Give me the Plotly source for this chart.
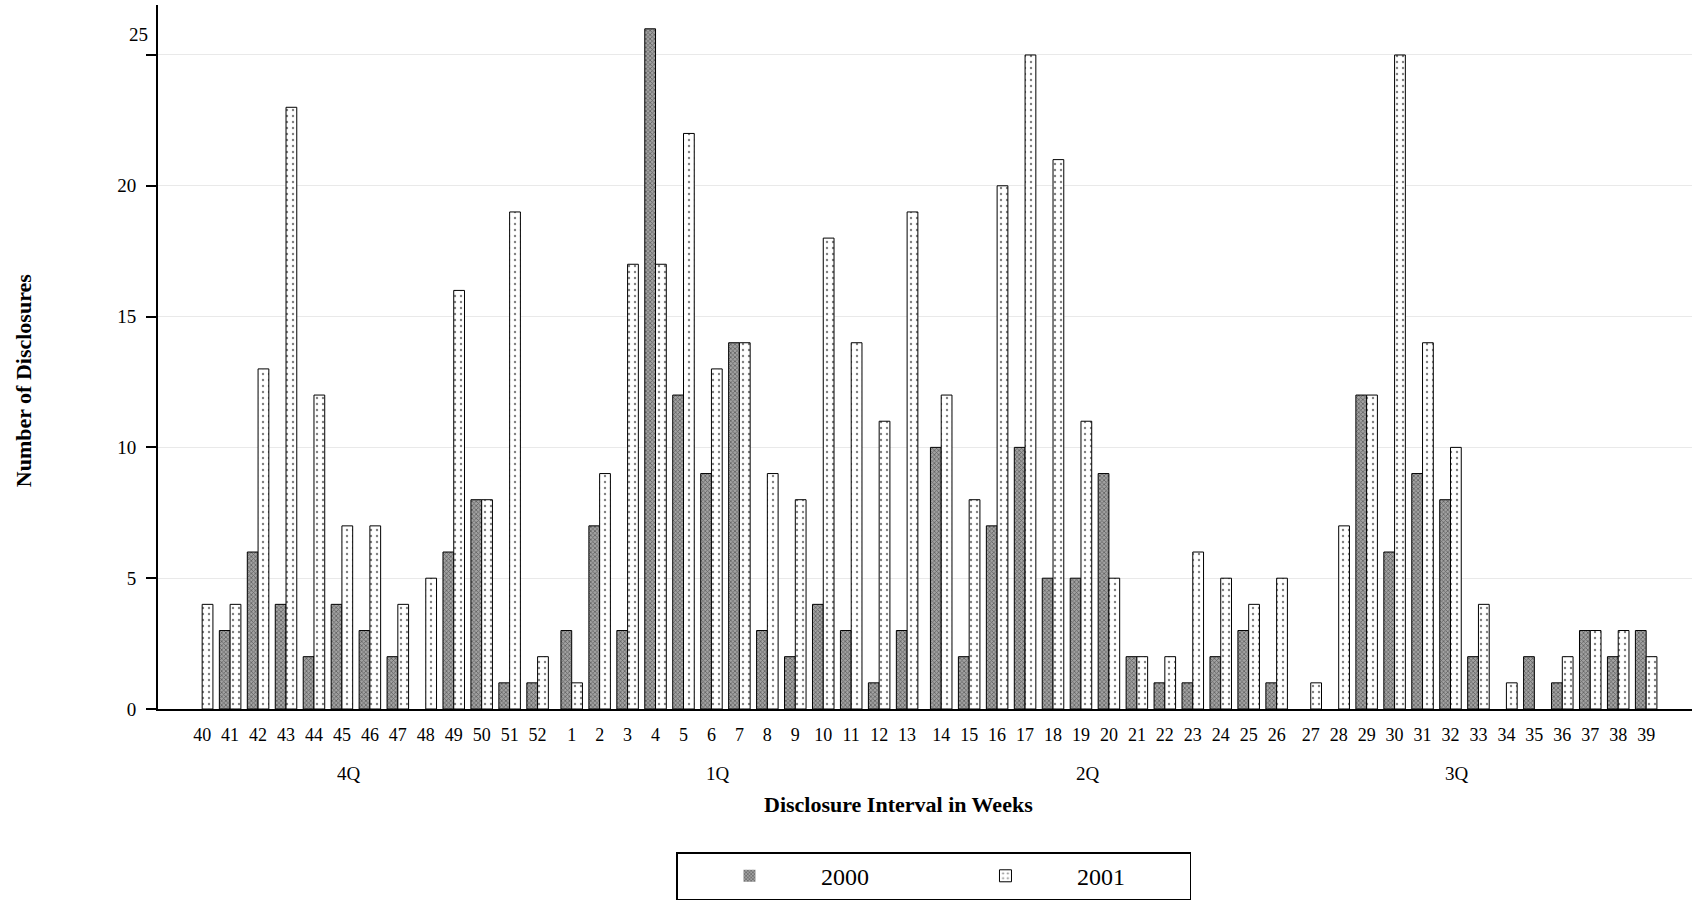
import plotly.graph_objects as go

quarters = ["4Q", "1Q", "2Q", "3Q"]
weeks = [
    [40, 41, 42, 43, 44, 45, 46, 47, 48, 49, 50, 51, 52],
    [1, 2, 3, 4, 5, 6, 7, 8, 9, 10, 11, 12, 13],
    [14, 15, 16, 17, 18, 19, 20, 21, 22, 23, 24, 25, 26],
    [27, 28, 29, 30, 31, 32, 33, 34, 35, 36, 37, 38, 39],
]
v2000 = [
    0, 3, 6, 4, 2, 4, 3, 2, 0, 6, 8, 1, 1,
    3, 7, 3, 26, 12, 9, 14, 3, 2, 4, 3, 1, 3,
    10, 2, 7, 10, 5, 5, 9, 2, 1, 1, 2, 3, 1,
    0, 0, 12, 6, 9, 8, 2, 0, 2, 1, 3, 2, 3,
]
v2001 = [
    4, 4, 13, 23, 12, 7, 7, 4, 5, 16, 8, 19, 2,
    1, 9, 17, 17, 22, 13, 14, 9, 8, 18, 14, 11, 19,
    12, 8, 20, 25, 21, 11, 5, 2, 2, 6, 5, 4, 5,
    1, 7, 12, 25, 14, 10, 4, 1, 0, 2, 3, 3, 2,
]
y_ticks = [0, 5, 10, 15, 20, 25]

FONT = "Liberation Serif, Times New Roman, serif"
GAP = 0.22  # extra space between quarter groups (in slot units)

xpos = [g * (13 + GAP) + i for g in range(len(quarters)) for i in range(len(weeks[g]))]
xlabels = [str(w) for grp in weeks for w in grp]


def outline(vals):
    # no outline on empty (zero-height) bars
    return [0 if v == 0 else 1 for v in vals]


fig = go.Figure()
fig.add_trace(go.Bar(
    x=xpos, y=v2000, name="2000",
    marker=dict(
        color="#7a7a7a",
        line=dict(color="black", width=outline(v2000)),
        pattern=dict(shape="x", fgcolor="#1e1e1e", bgcolor="#a2a2a2", size=3, solidity=0.45),
    ),
))
fig.add_trace(go.Bar(
    x=xpos, y=v2001, name="2001",
    marker=dict(
        color="white",
        line=dict(color="black", width=outline(v2001)),
        pattern=dict(shape=".", fgcolor="black", bgcolor="white", size=6, solidity=0.12),
    ),
))

annotations = []
for g, q in enumerate(quarters):
    cx = g * (13 + GAP) + 6 - 0.75
    annotations.append(dict(x=cx, xref="x", y=-0.091, yref="paper", text=q, showarrow=False,
                            font=dict(family=FONT, size=19, color="black"),
                            xanchor="center", yanchor="middle"))
annotations.append(dict(x=0.483, xref="paper", y=-0.135, yref="paper",
                        text="<b>Disclosure Interval in Weeks</b>", showarrow=False,
                        font=dict(family=FONT, size=22, color="black"),
                        xanchor="center", yanchor="middle"))
annotations.append(dict(x=-0.088, xref="paper", y=0.467, yref="paper",
                        text="<b>Number of Disclosures</b>", showarrow=False, textangle=-90,
                        font=dict(family=FONT, size=22, color="black"),
                        xanchor="center", yanchor="middle"))
# top tick label sits slightly above its tick in the original
annotations.append(dict(x=-0.005, xref="paper", y=25, yref="y", yshift=20, text=str(y_ticks[-1]),
                        showarrow=False, font=dict(family=FONT, size=19, color="black"),
                        xanchor="right", yanchor="middle"))

fig.update_layout(
    width=1692, height=902,
    margin=dict(l=158, r=0, t=5, b=193),
    paper_bgcolor="white", plot_bgcolor="white",
    barmode="group", bargap=0.23, bargroupgap=0,
    font=dict(family=FONT, size=18, color="black"),
    showlegend=True,
    legend=dict(
        orientation="h", xref="container", yref="container",
        x=0.552, y=0.002, xanchor="center", yanchor="bottom",
        bordercolor="black", borderwidth=1.5, bgcolor="white",
        font=dict(family=FONT, size=24, color="black"),
        entrywidth=108, itemwidth=133,
    ),
    annotations=annotations,
)
fig.update_xaxes(
    range=[-1.58, 53.3],
    tickmode="array", tickvals=xpos, ticktext=xlabels,
    showgrid=False, zeroline=False,
    showline=True, linecolor="black", linewidth=2,
    ticks="", ticklabelstandoff=8,
    tickfont=dict(family=FONT, size=18, color="black"),
)
fig.update_yaxes(
    range=[0, 26.91],
    tickmode="array", tickvals=y_ticks,
    ticktext=[str(t) for t in y_ticks[:-1]] + [""],
    showgrid=True, gridcolor="#e9e9e9", gridwidth=1,
    zeroline=False,
    showline=True, linecolor="black", linewidth=2,
    ticks="outside", ticklen=10, tickcolor="black", tickwidth=1.5,
    ticklabelstandoff=6,
    tickfont=dict(family=FONT, size=19, color="black"),
)

fig.write_html("out.html")
